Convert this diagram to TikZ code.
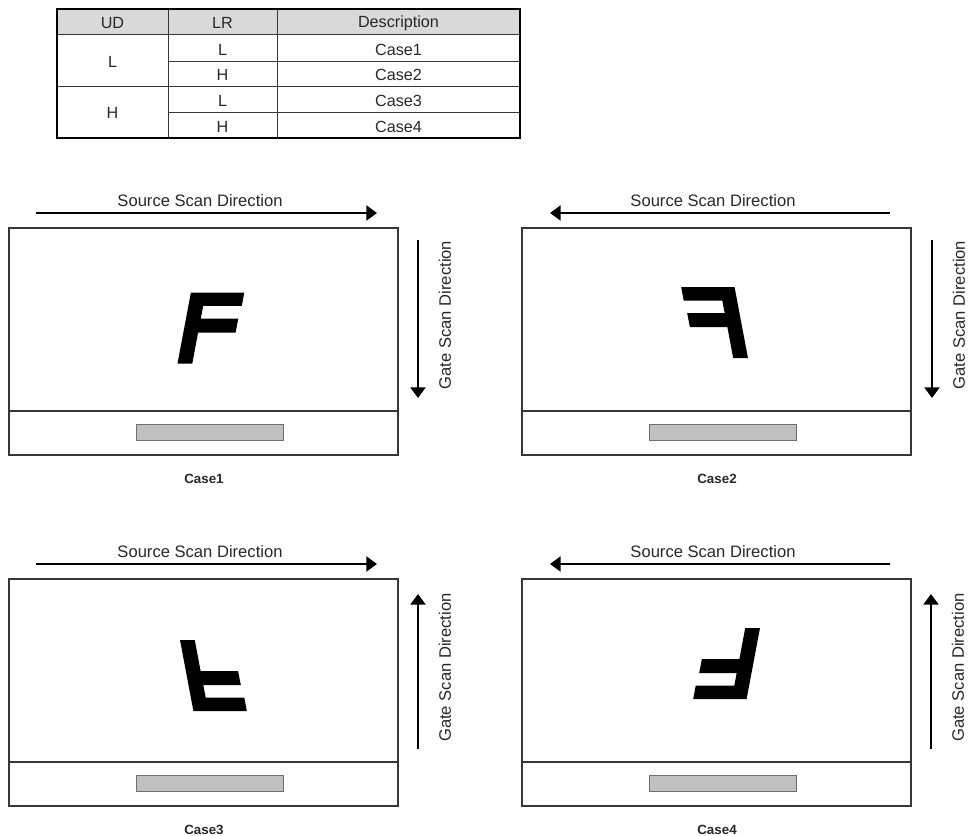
\documentclass[tikz,border=0pt]{standalone}
\usepackage{fontspec}
\setmainfont{Liberation Sans}
\usetikzlibrary{arrows.meta,positioning,calc}
\definecolor{linegray}{RGB}{55,55,55}
\definecolor{headgray}{RGB}{217,217,217}
\definecolor{bargray}{RGB}{192,192,192}
\definecolor{bardraw}{RGB}{110,110,110}
\definecolor{textgray}{RGB}{40,40,40}

\tikzset{
  cellfont/.style={text=textgray,font=\fontsize{11.5}{13}\selectfont,inner sep=0pt},
  scanlabel/.style={text=textgray,font=\fontsize{11.8}{14}\selectfont,inner sep=0pt},
  casetext/.style={text=textgray,font=\fontsize{9.5}{11}\selectfont\bfseries,inner sep=0pt},
  screen/.style={draw=linegray,line width=1pt},
  barbox/.style={draw=bardraw,fill=bargray,line width=0.7pt},
  scanarrow/.style={->,line width=1.8pt,black}
}

\begin{document}
\begin{tikzpicture}[x=0.025cm,y=-0.025cm,>={Triangle[length=7.5pt,width=10.5pt]}]
\useasboundingbox (0,0) rectangle (968,836);

% mode table
\fill[headgray] (57,9) rectangle (520,34);
\draw[linegray,line width=0.7pt] (57,34) -- (520,34) (168,61) -- (520,61) (57,86) -- (520,86)
  (168,112) -- (520,112) (168,9) -- (168,138) (277,9) -- (277,138);
\draw[black,line width=1.4pt] (57,9) rectangle (520,138);
\node[cellfont] (ud) at (112.5,23) {UD};
\node[cellfont] (lr) at (222.5,23) {LR};
\node[cellfont] (desc) at (398.5,23) {Description};
\node[cellfont] (udL) at (112.5,62) {L};
\node[cellfont] (udH) at (112.5,113) {H};
\node[cellfont] (lr1) at (222.5,50) {L};
\node[cellfont] (lr2) at (222.5,75) {H};
\node[cellfont] (lr3) at (222.5,100.5) {L};
\node[cellfont] (lr4) at (222.5,126.5) {H};
\node[cellfont] (desc1) at (398.5,50) {Case1};
\node[cellfont] (desc2) at (398.5,75) {Case2};
\node[cellfont] (desc3) at (398.5,100.5) {Case3};
\node[cellfont] (desc4) at (398.5,126.5) {Case4};

% four scan cases
\foreach \n/\ox/\oy/\fx/\fy/\fs/\fsy/\sa/\sb/\ga/\gb/\gx in {
  1/0/0/211/328/1/1/36/377/240/398/418,
  2/513/0/201.5/322.7/-1/1/377/37/240/398/419,
  3/0/351/213.5/324.5/1/-1/36/377/398/243/418,
  4/513/351/213.5/312.5/-1/-1/377/37/398/243/418}{
  \begin{scope}[shift={(\ox,\oy)}]
    \coordinate (scrtl\n) at (9,228);
    \coordinate (scrbr\n) at (398,455);
    \draw[screen] (scrtl\n) rectangle (scrbr\n);
    \draw[screen] (9,411) -- (398,411);
    \draw[barbox] (136,424) rectangle (283,440);
    \coordinate (srca\n) at (\sa,213);
    \coordinate (srcb\n) at (\sb,213);
    \draw[scanarrow] (srca\n) -- (srcb\n);
    \node[scanlabel] (srclabel\n) at (200,201) {Source Scan Direction};
    \coordinate (gatea\n) at (\gx,\ga);
    \coordinate (gateb\n) at (\gx,\gb);
    \draw[scanarrow] (gatea\n) -- (gateb\n);
    \node[scanlabel,rotate=90] (gatelabel\n) at ($(gatea\n)!0.5!(gateb\n)+(27,-4)$) {Gate Scan Direction};
    \node[casetext] (case\n) at (204,479) {Case\n};
    \fill[black,shift={(\fx,\fy)},xscale=\fs,yscale=\fsy]
      (-33.5,35.5) -- (-20.1,-35.5) -- (33.3,-35.5) -- (30.8,-22.1) -- (-7.8,-22.1)
      -- (-10.2,-9.5) -- (27.3,-9.5) -- (24.6,4.5) -- (-12.9,4.5) -- (-18.7,35.5) -- cycle;
  \end{scope}
}
\end{tikzpicture}
\end{document}
